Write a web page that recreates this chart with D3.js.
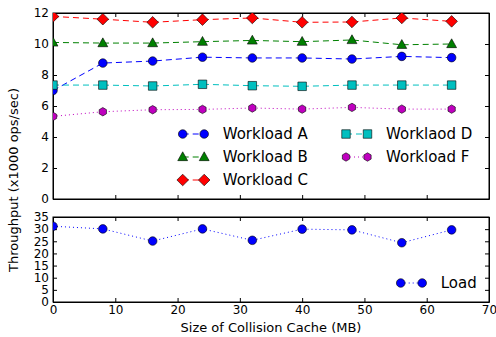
<!DOCTYPE html>
<meta charset="utf-8">
<style>
body { margin: 0; background: #fff; }
text { font-family: "DejaVu Sans", sans-serif; fill: #000; }
.axis path { stroke: #000; stroke-width: 1; }
.axis line { stroke: #000; stroke-width: 1; }
.axis text { font-size: 12px; }
</style>
<body>
<script src="https://d3js.org/d3.v7.min.js"></script>
<script>

var w = 496, h = 337;

// cache sizes (MB)
var sizes = [0, 8, 16, 24, 32, 40, 48, 56, 64];

// throughput, x1000 ops/sec
var workloadA = [7.0, 8.77, 8.9, 9.15, 9.1, 9.1, 9.03, 9.2, 9.12];
var workloadB = [10.1, 10.06, 10.06, 10.15, 10.23, 10.15, 10.26, 9.95, 10.0];
var workloadC = [11.78, 11.6, 11.4, 11.57, 11.68, 11.4, 11.42, 11.68, 11.46];
var workloadD = [7.35, 7.35, 7.29, 7.4, 7.31, 7.27, 7.35, 7.35, 7.35];
var workloadF = [5.33, 5.63, 5.76, 5.78, 5.87, 5.8, 5.91, 5.8, 5.8];
var load = [31.2, 30.1, 25.1, 30.1, 25.4, 30.0, 29.7, 24.4, 29.7];

var xTicks = [0, 10, 20, 30, 40, 50, 60, 70];
var topYTicks = [0, 2, 4, 6, 8, 10, 12];
var botYTicks = [0, 5, 10, 15, 20, 25, 30, 35];

var left = 53, right = 489;
var top1 = 13, bot1 = 199;
var top2 = 217, bot2 = 302;

var x = d3.scaleLinear().domain([0, 70]).range([left, right]);
var y1 = d3.scaleLinear().domain([0, 12]).range([bot1, top1]);
var y2 = d3.scaleLinear().domain([0, 35]).range([bot2, top2]);

var svg = d3.select("body").append("svg")
    .attr("width", w)
    .attr("height", h);

var defs = svg.append("defs");
defs.append("clipPath").attr("id", "clip1")
  .append("rect").attr("x", left).attr("y", top1).attr("width", right - left).attr("height", bot1 - top1);
defs.append("clipPath").attr("id", "clip2")
  .append("rect").attr("x", left).attr("y", top2).attr("width", right - left).attr("height", bot2 - top2);

// marker shapes
var shapes = {
  circle: d3.symbol().type(d3.symbolCircle).size(Math.PI * 4.3 * 4.3),
  square: d3.symbol().type(d3.symbolSquare).size(8.5 * 8.5),
  triangle: function() { var s = 5.2; return "M0," + (-s) + "L" + (s * 0.95) + "," + (s * 0.7) + "L" + (-s * 0.95) + "," + (s * 0.7) + "Z"; },
  diamond: function() { var s = 5.8; return "M0," + (-s) + "L" + s + ",0L0," + s + "L" + (-s) + ",0Z"; },
  hexagon: function() {
    var r = 4.2, p = [];
    for (var i = 0; i < 6; i++) { var a = Math.PI / 3 * i - Math.PI / 2; p.push([r * Math.cos(a), r * Math.sin(a)]); }
    return "M" + p.join("L") + "Z";
  }
};

// legend labels as printed in the figure (incl. the "Worklaod" typo)
var legendNames = ["Workload A", "Workload B", "Workload C", "Worklaod D", "Workload F"];

var series = [
  {values: workloadA, color: "#0000ff", dash: "6,4", shape: "circle"},
  {values: workloadB, color: "#008000", dash: "6,4", shape: "triangle"},
  {values: workloadC, color: "#ff0000", dash: "6,4", shape: "diamond"},
  {values: workloadD, color: "#00bfbf", dash: "6,4", shape: "square"},
  {values: workloadF, color: "#bf00bf", dash: "1,3", shape: "hexagon"}
];

function drawAxes(y, yticks, t, b, showX) {
  svg.append("g").attr("class", "axis")
    .attr("transform", "translate(0," + b + ")")
    .call(d3.axisBottom(x).tickValues(xTicks).tickSizeInner(-4).tickSizeOuter(0).tickPadding(3)
      .tickFormat(showX ? d3.format("d") : ""));
  svg.append("g").attr("class", "axis")
    .attr("transform", "translate(0," + t + ")")
    .call(d3.axisTop(x).tickValues(xTicks).tickSizeInner(-4).tickSizeOuter(0).tickFormat(""));
  svg.append("g").attr("class", "axis")
    .attr("transform", "translate(" + left + ",0)")
    .call(d3.axisLeft(y).tickValues(yticks).tickSizeInner(-4).tickSizeOuter(0).tickPadding(4));
  svg.append("g").attr("class", "axis")
    .attr("transform", "translate(" + right + ",0)")
    .call(d3.axisRight(y).tickValues(yticks).tickSizeInner(-4).tickSizeOuter(0).tickFormat(""));
  svg.append("rect")
    .attr("x", left).attr("y", t).attr("width", right - left).attr("height", b - t)
    .attr("fill", "none").attr("stroke", "#000").attr("stroke-width", 1);
}

function drawSeries(g, s, y) {
  var line = d3.line().x(function(d, i) { return x(sizes[i]); }).y(function(d) { return y(d); });
  g.append("path").datum(s.values)
    .attr("d", line)
    .attr("fill", "none")
    .attr("stroke", s.color)
    .attr("stroke-width", 1)
    .attr("stroke-dasharray", s.dash);
  g.selectAll(null).data(s.values).enter().append("path")
    .attr("d", shapes[s.shape])
    .attr("transform", function(d, i) { return "translate(" + x(sizes[i]) + "," + y(d) + ")"; })
    .attr("fill", s.color)
    .attr("stroke", "#000")
    .attr("stroke-width", 0.6);
}

function legendItem(s, mx, ty, label) {
  svg.append("line")
    .attr("x1", mx).attr("x2", mx + 21.5).attr("y1", ty).attr("y2", ty)
    .attr("stroke", s.color).attr("stroke-width", 1).attr("stroke-dasharray", s.dash);
  [mx, mx + 21.5].forEach(function(px) {
    svg.append("path").attr("d", shapes[s.shape])
      .attr("transform", "translate(" + px + "," + ty + ")")
      .attr("fill", s.color).attr("stroke", "#000").attr("stroke-width", 0.6);
  });
  svg.append("text")
    .attr("x", mx + 40).attr("y", ty).attr("dy", "0.36em")
    .style("font-size", "15px")
    .text(label);
}

// top panel
drawAxes(y1, topYTicks, top1, bot1, false);
var g1 = svg.append("g").attr("clip-path", "url(#clip1)");
series.forEach(function(s) { drawSeries(g1, s, y1); });

// legend (two columns)
var rows = [134, 157, 180];
series.forEach(function(s, i) {
  var col = i < 3 ? 0 : 1;
  var row = i < 3 ? i : i - 3;
  legendItem(s, col === 0 ? 182.7 : 346, rows[row], legendNames[i]);
});

// bottom panel
drawAxes(y2, botYTicks, top2, bot2, true);
var g2 = svg.append("g").attr("clip-path", "url(#clip2)");
var loadSeries = {values: load, color: "#0000ff", dash: "1,3", shape: "circle"};
drawSeries(g2, loadSeries, y2);
legendItem(loadSeries, 400.7, 283, "Load");

// axis titles
svg.append("text")
  .attr("x", (left + right) / 2).attr("y", 332)
  .attr("text-anchor", "middle")
  .style("font-size", "13px")
  .text("Size of Collision Cache (MB)");

svg.append("text")
  .attr("transform", "translate(18,180) rotate(-90)")
  .attr("text-anchor", "middle")
  .style("font-size", "13px")
  .text("Throughput (x1000 ops/sec)");

</script>
</body>
